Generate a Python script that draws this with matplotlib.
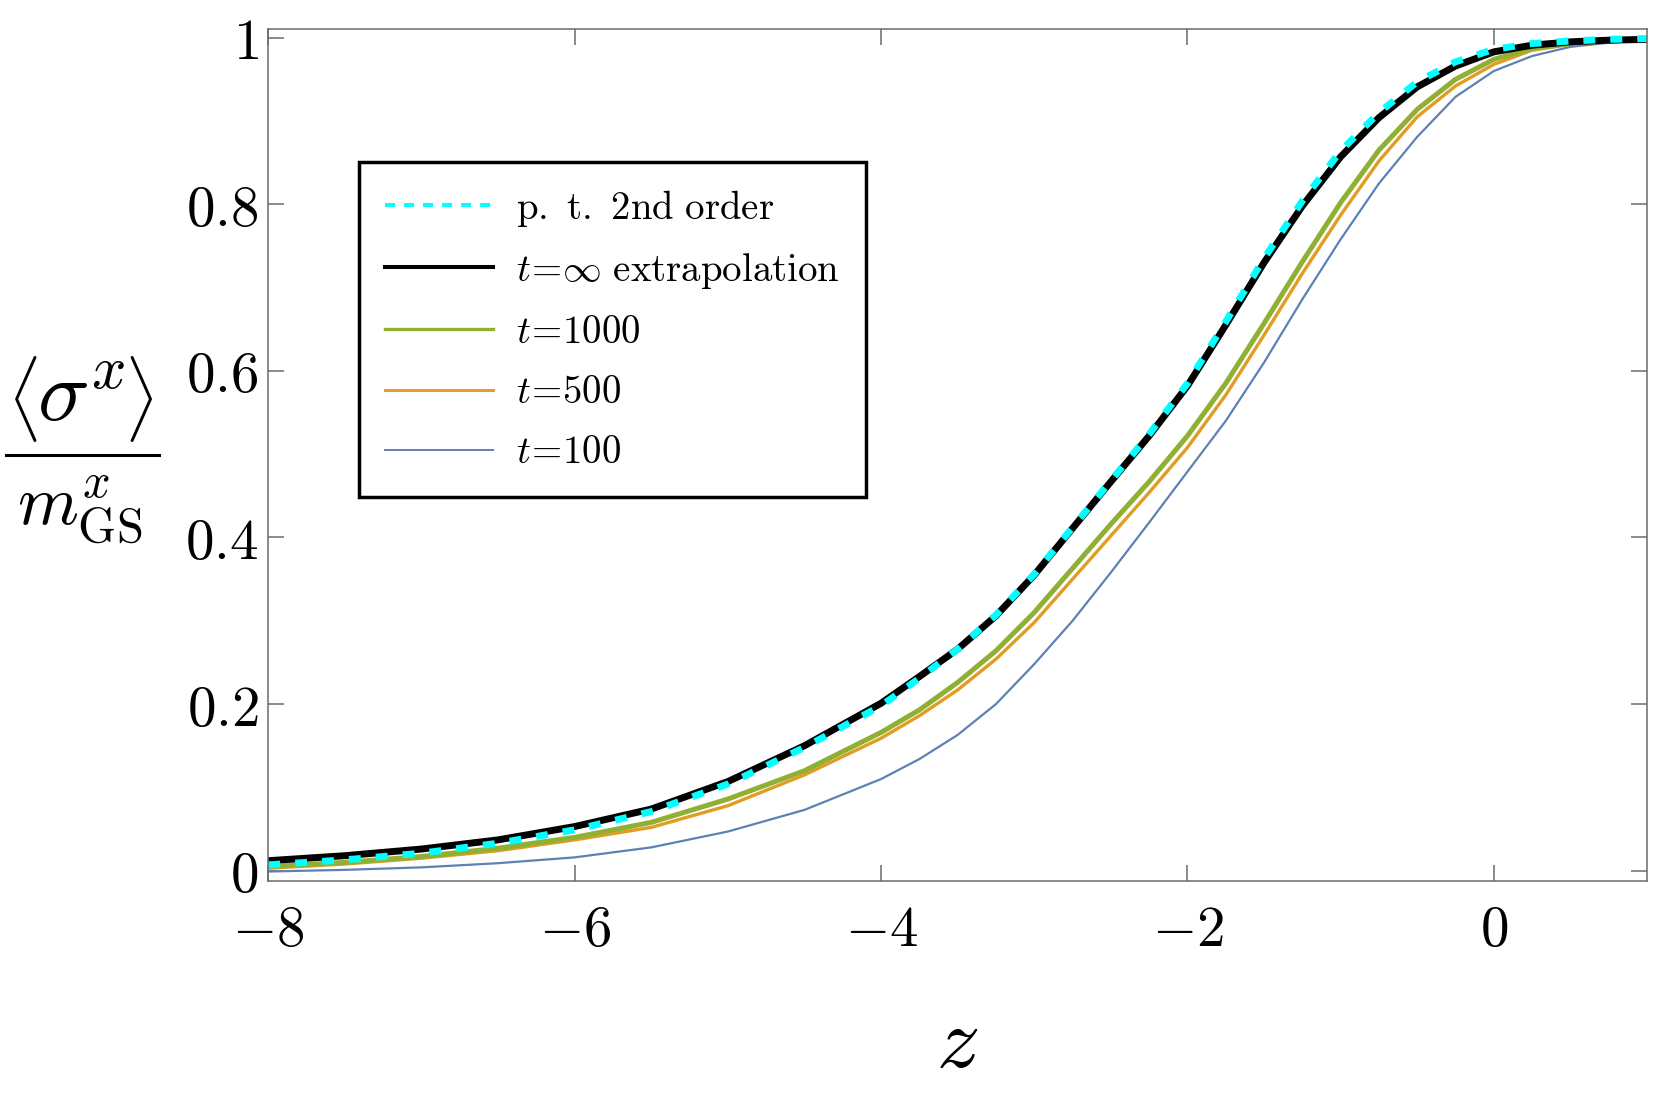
import numpy as np
import matplotlib
matplotlib.use('Agg')
import matplotlib.pyplot as plt
from matplotlib.lines import Line2D
from matplotlib.ticker import FixedLocator, FixedFormatter

plt.rcParams['mathtext.fontset'] = 'cm'
plt.rcParams['lines.scale_dashes'] = False

# ---- data ----
z = [-8, -7.5, -7, -6.5, -6, -5.5, -5, -4.5, -4, -3.75, -3.5, -3.25, -3, -2.75,
     -2.5, -2.25, -2, -1.75, -1.5, -1.25, -1, -0.75, -0.5, -0.25, 0, 0.25, 0.5, 0.75, 1]

pt_2nd_order = [0.007, 0.013, 0.021, 0.033, 0.049, 0.071, 0.104, 0.148, 0.198, 0.231,
                0.266, 0.307, 0.356, 0.412, 0.468, 0.524, 0.585, 0.659, 0.735, 0.804,
                0.864, 0.910, 0.947, 0.971, 0.986, 0.993, 0.996, 0.998, 0.999]

t_inf = [0.012, 0.018, 0.026, 0.037, 0.053, 0.074, 0.107, 0.150, 0.201, 0.233,
         0.266, 0.306, 0.355, 0.411, 0.467, 0.522, 0.582, 0.655, 0.730, 0.798,
         0.857, 0.904, 0.941, 0.966, 0.983, 0.991, 0.995, 0.997, 0.998]

t_1000 = [0.005, 0.010, 0.017, 0.027, 0.040, 0.058, 0.086, 0.120, 0.166, 0.193,
          0.226, 0.264, 0.310, 0.363, 0.416, 0.467, 0.522, 0.585, 0.657, 0.731,
          0.802, 0.865, 0.914, 0.950, 0.974, 0.987, 0.993, 0.996, 0.998]

t_500 = [0.003, 0.008, 0.015, 0.024, 0.037, 0.052, 0.078, 0.115, 0.159, 0.186,
         0.217, 0.254, 0.298, 0.350, 0.402, 0.454, 0.508, 0.571, 0.643, 0.717,
         0.787, 0.852, 0.905, 0.942, 0.968, 0.985, 0.992, 0.996, 0.998]

t_100 = [-0.001, 0.001, 0.004, 0.009, 0.016, 0.028, 0.047, 0.073, 0.110, 0.134,
         0.163, 0.200, 0.248, 0.300, 0.358, 0.418, 0.479, 0.540, 0.610, 0.686,
         0.758, 0.825, 0.881, 0.929, 0.960, 0.978, 0.989, 0.994, 0.997]

x_ticks = [-8, -6, -4, -2, 0]
x_tick_labels = [r'$-8$', r'$-6$', r'$-4$', r'$-2$', r'$0$']
y_ticks = [0, 0.2, 0.4, 0.6, 0.8, 1]
y_tick_labels = [r'$0$', r'$0.2$', r'$0.4$', r'$0.6$', r'$0.8$', r'$1$']

legend_labels = [r'$\mathrm{p.\ t.\ 2nd\ order}$',
                 r'$t\!=\!\infty\ \mathrm{extrapolation}$',
                 r'$t\!=\!1000$',
                 r'$t\!=\!500$',
                 r'$t\!=\!100$']

# ---- figure ----
W, H = 1661, 1101
fig = plt.figure(figsize=(W / 100, H / 100), dpi=100)
ax = fig.add_axes([0.16153, 0.19982, 0.83005, 0.77357])

c_blue = '#5E81B5'
c_orange = '#E19C24'
c_green = '#8FB032'

l100, = ax.plot(z, t_100, color=c_blue, lw=1.6, solid_joinstyle='round')
l500, = ax.plot(z, t_500, color=c_orange, lw=2.4, solid_joinstyle='round')
l1000, = ax.plot(z, t_1000, color=c_green, lw=3.6, solid_joinstyle='round')
linf, = ax.plot(z, t_inf, color='black', lw=5.0, solid_joinstyle='round')
lpt, = ax.plot(z, pt_2nd_order, color='#00FFFF', lw=5.0, dashes=(8.6, 10.8),
               dash_capstyle='butt')

ax.set_xlim(-8, 1)
ax.set_ylim(-0.01237, 1.01008)

ax.xaxis.set_major_locator(FixedLocator(x_ticks))
ax.xaxis.set_major_formatter(FixedFormatter(x_tick_labels))
ax.yaxis.set_major_locator(FixedLocator(y_ticks))
ax.yaxis.set_major_formatter(FixedFormatter(y_tick_labels))

frame_color = '#6b6b6b'
for s in ax.spines.values():
    s.set_color(frame_color)
    s.set_linewidth(1.1)

ax.tick_params(axis='both', which='major', direction='in', length=11.5, width=1.1,
               color=frame_color, top=True, right=True, labelsize=41)
ax.tick_params(axis='x', pad=16)
ax.tick_params(axis='y', pad=7)

# x-axis label
fig.text(957 / W, 1 - 1043 / H, r'$z$', fontsize=62, ha='center', va='center')

# y-axis label: <sigma^x> / m^x_GS built as a stacked fraction
fig.text(22 / W, 1 - 399 / H, r'$\langle$', fontsize=52, ha='center', va='center')
fig.text(138 / W, 1 - 399 / H, r'$\rangle$', fontsize=52, ha='center', va='center')
fig.text(81 / W, 1 - 422 / H, r'$\sigma^{x}$', fontsize=62, ha='center', va='baseline')
fig.add_artist(Line2D([6 / W, 159 / W], [1 - 455 / H, 1 - 455 / H],
                      transform=fig.transFigure, color='black', lw=2.2))
fig.text(80 / W, 1 - 525 / H, r'$m^{x}_{\mathrm{GS}}$', fontsize=50,
         ha='center', va='baseline')

# legend
leg = ax.legend([lpt, linf, l1000, l500, l100], legend_labels,
                loc='upper left', bbox_to_anchor=(0.0658, 0.8442),
                frameon=True, fancybox=False, edgecolor='black', framealpha=1,
                fontsize=28, handlelength=2.78, handletextpad=0.6,
                labelspacing=0.57, borderpad=0.66, borderaxespad=0)
leg.get_frame().set_linewidth(2.5)
leg_lw = [2.9, 2.9, 2.4, 2.1, 1.4]
for ln, w in zip(leg.get_lines(), leg_lw):
    ln.set_linewidth(w)
leg.get_lines()[0].set_dashes((7.2, 6.5))

fig.savefig('out.png', dpi=100)
